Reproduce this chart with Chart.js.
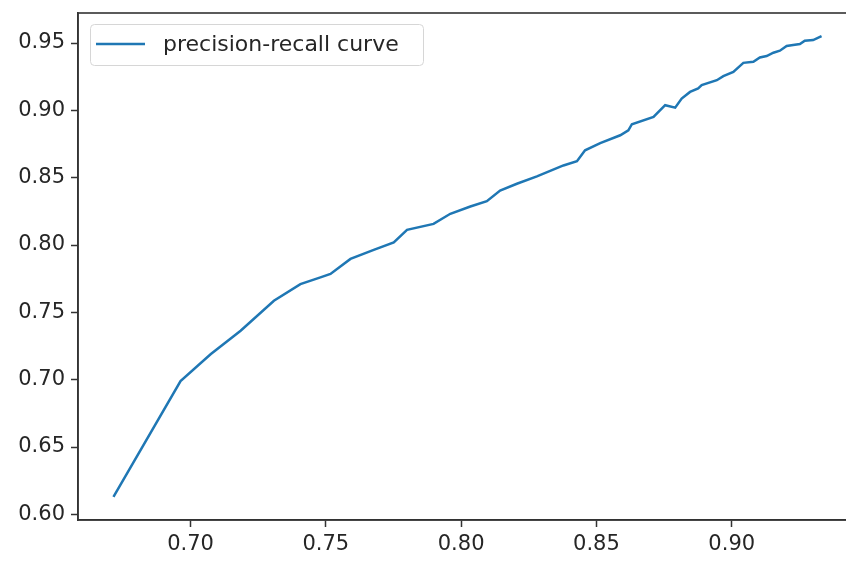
<!DOCTYPE html>
<html>
<head>
<meta charset="utf-8">
<script src="https://cdn.jsdelivr.net/npm/chart.js@4/dist/chart.umd.min.js"></script>
<style>
  html, body { margin: 0; padding: 0; background: #fff; overflow: hidden; }
  #wrap { width: 846px; height: 561px; overflow: hidden; }
  canvas { display: block; }
</style>
</head>
<body>
<div id="wrap"><canvas id="pr" width="860" height="561"></canvas></div>
<script>
// Recall (x) and precision (y) along the curve
const recall = [
  0.6715, 0.6963, 0.7074, 0.7185, 0.7308, 0.7406, 0.7480, 0.7517, 0.7591, 0.7677,
  0.7751, 0.7800, 0.7898, 0.7960, 0.8034, 0.8095, 0.8144, 0.8206, 0.8280, 0.8378,
  0.8428, 0.8458, 0.8514, 0.8588, 0.8618, 0.8631, 0.8711, 0.8754, 0.8791, 0.8815,
  0.8846, 0.8876, 0.8889, 0.8945, 0.8969, 0.9006, 0.9043, 0.9080, 0.9104, 0.9129,
  0.9154, 0.9178, 0.9203, 0.9227, 0.9252, 0.9270, 0.9301, 0.9332
];
const precision = [
  0.6129, 0.6990, 0.7189, 0.7363, 0.7586, 0.7710, 0.7760, 0.7785, 0.7897, 0.7964,
  0.8020, 0.8113, 0.8157, 0.8232, 0.8286, 0.8326, 0.8405, 0.8455, 0.8510, 0.8591,
  0.8623, 0.8703, 0.8757, 0.8815, 0.8852, 0.8897, 0.8951, 0.9038, 0.9020, 0.9088,
  0.9137, 0.9163, 0.9187, 0.9224, 0.9254, 0.9286, 0.9353, 0.9361, 0.9393, 0.9403,
  0.9428, 0.9443, 0.9478, 0.9485, 0.9492, 0.9517, 0.9522, 0.9552
];
const xTicks = [0.70, 0.75, 0.80, 0.85, 0.90];
const yTicks = [0.60, 0.65, 0.70, 0.75, 0.80, 0.85, 0.90, 0.95];
const seriesLabel = 'precision-recall curve';

const FONT = 'DejaVu Sans';
const AXIS = '#333333';
const TEXT = '#262626';
const BLUE = '#1f77b4';

const points = recall.map((r, i) => ({ x: r, y: precision[i] }));

// Frame (top/right spines) and the in-plot legend
const framePlugin = {
  id: 'frame',
  afterDraw(chart) {
    const { ctx, chartArea: a } = chart;
    ctx.save();
    ctx.strokeStyle = AXIS;
    ctx.lineWidth = 1.6;
    ctx.strokeRect(a.left, a.top, a.right - a.left, a.bottom - a.top);

    // legend
    const bx = 90.5, by = 24.5, bw = 333, bh = 41, r = 4;
    ctx.beginPath();
    ctx.moveTo(bx + r, by);
    ctx.arcTo(bx + bw, by, bx + bw, by + bh, r);
    ctx.arcTo(bx + bw, by + bh, bx, by + bh, r);
    ctx.arcTo(bx, by + bh, bx, by, r);
    ctx.arcTo(bx, by, bx + bw, by, r);
    ctx.closePath();
    ctx.fillStyle = 'rgba(255,255,255,0.85)';
    ctx.fill();
    ctx.strokeStyle = '#d6d6d6';
    ctx.lineWidth = 1;
    ctx.stroke();

    ctx.beginPath();
    ctx.moveTo(96, 44);
    ctx.lineTo(145, 44);
    ctx.strokeStyle = BLUE;
    ctx.lineWidth = 2.5;
    ctx.stroke();

    ctx.fillStyle = TEXT;
    ctx.font = '22px "' + FONT + '"';
    ctx.textBaseline = 'middle';
    ctx.textAlign = 'left';
    ctx.fillText(chart.data.datasets[0].label, 163, 45);
    ctx.restore();
  }
};

function noPad(s) {
  s.paddingTop = 0; s.paddingBottom = 0; s.paddingLeft = 0; s.paddingRight = 0;
}

new Chart(document.getElementById('pr'), {
  type: 'line',
  data: {
    datasets: [{
      label: seriesLabel,
      data: points,
      borderColor: BLUE,
      borderWidth: 2.5,
      pointRadius: 0,
      tension: 0,
      fill: false
    }]
  },
  options: {
    responsive: false,
    animation: false,
    devicePixelRatio: 1,
    layout: { padding: { left: 0, top: 13, right: 3, bottom: 0 } },
    plugins: { legend: { display: false }, tooltip: { enabled: false } },
    scales: {
      x: {
        type: 'linear',
        min: 0.6584,
        max: 0.9463,
        afterBuildTicks: s => { s.ticks = xTicks.map(v => ({ value: v })); },
        afterFit: s => { s.height = 41; noPad(s); },
        border: { display: true, color: AXIS, width: 1.6 },
        grid: { drawOnChartArea: false, drawTicks: true, tickLength: 7, tickColor: AXIS, tickWidth: 1.5 },
        ticks: {
          padding: 5,
          color: TEXT,
          font: { family: FONT, size: 21 },
          maxRotation: 0,
          callback: v => v.toFixed(2)
        }
      },
      y: {
        type: 'linear',
        min: 0.5958,
        max: 0.9723,
        afterBuildTicks: s => { s.ticks = yTicks.map(v => ({ value: v })); },
        afterFit: s => { s.width = 78; noPad(s); },
        border: { display: true, color: AXIS, width: 1.6 },
        grid: { drawOnChartArea: false, drawTicks: true, tickLength: 7, tickColor: AXIS, tickWidth: 1.5 },
        ticks: {
          padding: 6,
          color: TEXT,
          font: { family: FONT, size: 21 },
          callback: v => v.toFixed(2)
        }
      }
    }
  },
  plugins: [framePlugin]
});
</script>
</body>
</html>
